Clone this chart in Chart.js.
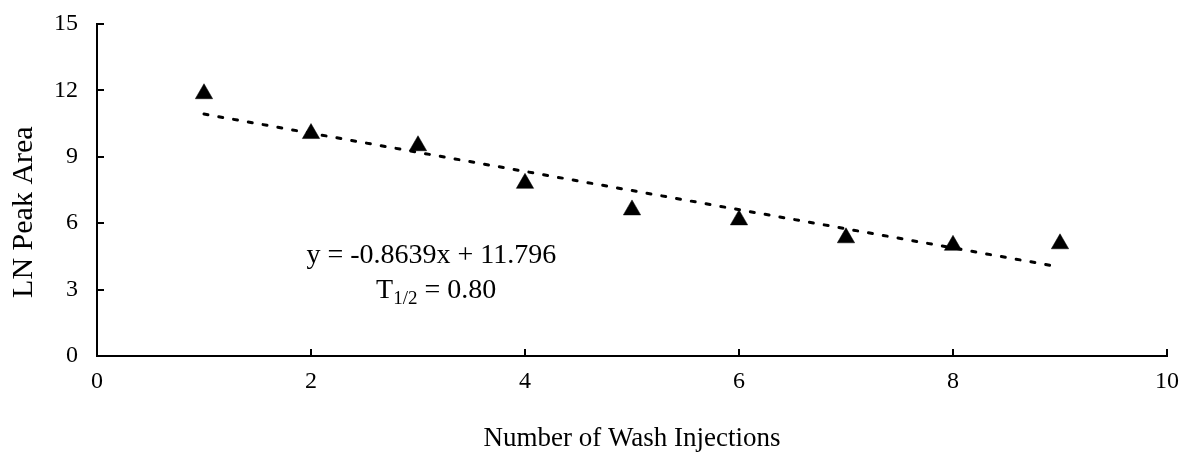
<!DOCTYPE html>
<html>
<head>
<meta charset="utf-8">
<script src="https://cdn.jsdelivr.net/npm/chart.js@4/dist/chart.umd.min.js"></script>
<style>
html,body{margin:0;padding:0;background:#fff;}
#wrap{width:1180px;height:458px;position:relative;}
</style>
</head>
<body>
<div id="wrap"><canvas id="c" width="1180" height="458"></canvas></div>
<script>
const washInjections = [1, 2, 3, 4, 5, 6, 7, 8, 9];
const lnPeakArea = [11.85, 10.05, 9.5, 7.8, 6.6, 6.15, 5.34, 5.0, 5.07];
const trendX = [1, 9];
const trendY = [10.93, 4.02];
const xTicks = [0, 2, 4, 6, 8, 10];
const yTicks = [0, 3, 6, 9, 12, 15];
const equationText = "y = -0.8639x + 11.796";
const halfLifeLabel = ["T", "1/2", " = 0.80"];
const xTitle = "Number of Wash Injections";
const yTitle = "LN Peak Area";

const FONT = "'Liberation Serif', 'Times New Roman', serif";

const inwardTicks = {
  id: 'inwardTicks',
  afterDraw(chart) {
    const ctx = chart.ctx, a = chart.chartArea;
    const xs = chart.scales.x, ys = chart.scales.y;
    ctx.save();
    ctx.strokeStyle = '#000';
    ctx.lineWidth = 2;
    ctx.beginPath();
    yTicks.forEach(v => {
      const y = Math.round(ys.getPixelForValue(v));
      ctx.moveTo(a.left, y); ctx.lineTo(a.left + 7, y);
    });
    xTicks.forEach(v => {
      const x = Math.round(xs.getPixelForValue(v));
      ctx.moveTo(x, a.bottom); ctx.lineTo(x, a.bottom - 7);
    });
    ctx.stroke();
    ctx.restore();
  }
};

const annotation = {
  id: 'annotation',
  afterDraw(chart) {
    const ctx = chart.ctx;
    const xs = chart.scales.x, ys = chart.scales.y;
    ctx.save();
    ctx.fillStyle = '#000';
    ctx.textBaseline = 'middle';
    // y-axis title
    ctx.save();
    ctx.translate(24, ys.getPixelForValue(6.5));
    ctx.rotate(-Math.PI / 2);
    ctx.textAlign = 'center';
    ctx.font = "30px " + FONT;
    ctx.fillText(yTitle, 0, 0);
    ctx.restore();
    // equation
    ctx.font = "28px " + FONT;
    ctx.textAlign = 'center';
    ctx.fillText(equationText, xs.getPixelForValue(3.125), ys.getPixelForValue(4.55));
    // T1/2 line
    const cx2 = xs.getPixelForValue(3.17);
    const y2 = ys.getPixelForValue(2.95);
    const f1 = "28px " + FONT, f2 = "19px " + FONT;
    ctx.font = f1; const w1 = ctx.measureText(halfLifeLabel[0]).width;
    const w3 = ctx.measureText(halfLifeLabel[2]).width;
    ctx.font = f2; const w2 = ctx.measureText(halfLifeLabel[1]).width;
    let x0 = cx2 - (w1 + w2 + w3) / 2;
    ctx.textAlign = 'left';
    ctx.font = f1; ctx.fillText(halfLifeLabel[0], x0, y2);
    ctx.font = f2; ctx.fillText(halfLifeLabel[1], x0 + w1, y2 + 8);
    ctx.font = f1; ctx.fillText(halfLifeLabel[2], x0 + w1 + w2, y2);
    ctx.restore();
  }
};

new Chart(document.getElementById('c'), {
  type: 'scatter',
  data: {
    datasets: [
      {
        label: 'Trend',
        data: trendX.map((x, i) => ({x: x, y: trendY[i]})),
        showLine: true,
        borderColor: '#000',
        borderWidth: 3,
        borderDash: [4, 11],
        borderCapStyle: 'round',
        pointRadius: 0,
        fill: false,
        order: 2
      },
      {
        label: 'LN Peak Area',
        data: washInjections.map((x, i) => ({x: x, y: lnPeakArea[i]})),
        pointStyle: 'triangle',
        pointRadius: 10,
        backgroundColor: '#000',
        borderColor: '#000',
        borderWidth: 0.5,
        order: 1
      }
    ]
  },
  options: {
    responsive: false,
    animation: false,
    devicePixelRatio: 1,
    layout: { padding: { top: 24, right: 13, left: 0, bottom: 0 } },
    plugins: { legend: { display: false }, tooltip: { enabled: false } },
    scales: {
      x: {
        type: 'linear', min: 0, max: 10,
        afterBuildTicks: s => { s.ticks = xTicks.map(v => ({value: v})); },
        afterFit: s => { s.height = 102; s.paddingLeft = 0; s.paddingRight = 0; },
        grid: { display: false, drawTicks: false },
        border: { display: true, color: '#000', width: 2 },
        ticks: { color: '#000', padding: 11, font: { family: FONT, size: 24 } },
        title: { display: true, text: xTitle, color: '#000', font: { family: FONT, size: 27 }, padding: { top: 0, bottom: 3 } }
      },
      y: {
        type: 'linear', min: 0, max: 15,
        afterBuildTicks: s => { s.ticks = yTicks.map(v => ({value: v})); },
        afterFit: s => { s.width = 97; s.paddingTop = 0; s.paddingBottom = 0; },
        grid: { display: false, drawTicks: false },
        border: { display: true, color: '#000', width: 2 },
        ticks: { color: '#000', padding: 19, font: { family: FONT, size: 24 } },
        title: { display: false }
      }
    }
  },
  plugins: [inwardTicks, annotation]
});
</script>
</body>
</html>
